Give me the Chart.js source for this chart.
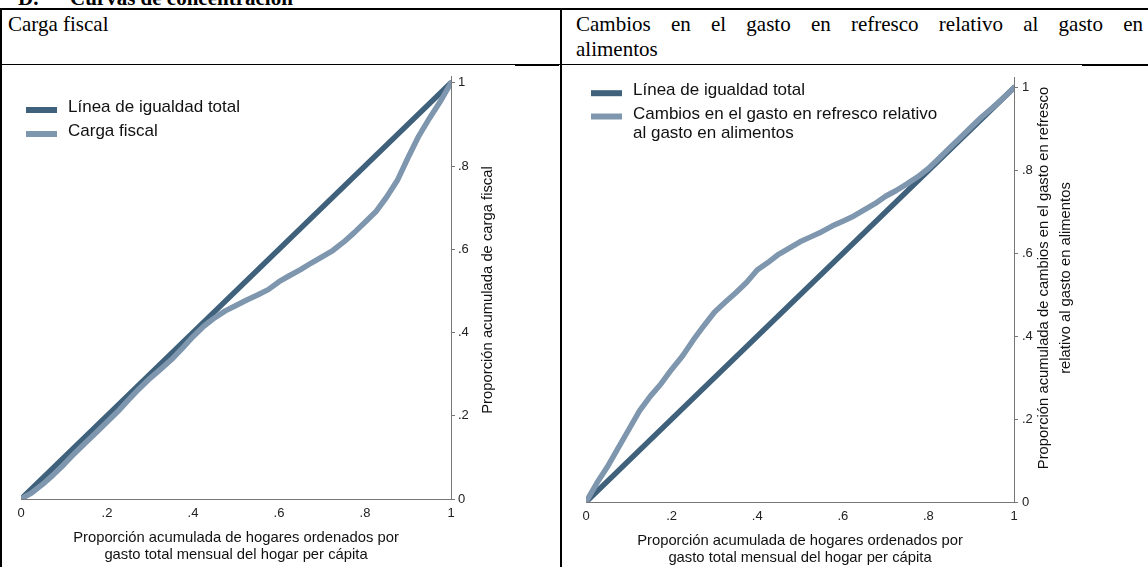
<!DOCTYPE html>
<html>
<head>
<meta charset="utf-8">
<script src="https://cdn.jsdelivr.net/npm/chart.js@4.4.1/dist/chart.umd.min.js"></script>
<style>
  body { margin: 0; background: #fff; width: 1148px; height: 567px; overflow: hidden; position: relative;
         font-family: "Liberation Serif", "Times New Roman", serif; color: #000; }
  .rule { position: absolute; background: #000; }
  .cell { position: absolute; font-size: 21px; line-height: 25px; white-space: nowrap; }
  .just { text-align: justify; text-align-last: justify; white-space: normal; }
  canvas { position: absolute; }
</style>
</head>
<body>
<div class="cell" style="left:18px; top:-14px; font-weight:bold;">D.<span style="position:absolute; left:52px;">Curvas&nbsp;de&nbsp;concentración</span></div>
<div class="rule" style="left:0; top:8px; width:1148px; height:2px;"></div>
<div class="rule" style="left:0; top:8px; width:2px; height:559px;"></div>
<div class="rule" style="left:560px; top:8px; width:2px; height:559px;"></div>
<div class="rule" style="left:0; top:64px; width:1148px; height:1px;"></div>
<div class="rule" style="left:515px; top:64px; width:44px; height:2px;"></div>
<div class="rule" style="left:1082px; top:64px; width:66px; height:2px;"></div>
<div class="cell" style="left:8px; top:12px;">Carga fiscal</div>
<div class="cell just" style="left:576px; top:12px; width:567px;">Cambios en el gasto en refresco relativo al gasto en</div>
<div class="cell" style="left:576px; top:37px;">alimentos</div>

<canvas id="chartCarga" width="560" height="501" style="left:0; top:66px;"></canvas>
<canvas id="chartRefresco" width="585" height="501" style="left:563px; top:66px;"></canvas>

<script>
// proporción acumulada de hogares (eje x)
const shareHogares = [0, 0.025, 0.05, 0.075, 0.1, 0.125, 0.15, 0.175, 0.2, 0.225, 0.25, 0.275, 0.3, 0.325, 0.35,
  0.375, 0.4, 0.425, 0.45, 0.475, 0.5, 0.525, 0.55, 0.575, 0.6, 0.625, 0.65, 0.675, 0.7, 0.725, 0.75, 0.775,
  0.8, 0.825, 0.85, 0.875, 0.9, 0.925, 0.95, 0.975, 1];

// curva de concentración: carga fiscal
const cargaFiscal = [0, 0.015, 0.035, 0.058, 0.083, 0.11, 0.135, 0.16, 0.185, 0.21, 0.238, 0.265, 0.29, 0.312,
  0.335, 0.362, 0.39, 0.415, 0.435, 0.452, 0.465, 0.478, 0.49, 0.503, 0.522, 0.537, 0.551, 0.567, 0.582, 0.597,
  0.617, 0.64, 0.665, 0.69, 0.725, 0.765, 0.82, 0.872, 0.915, 0.955, 1];

// curva de concentración: cambios en el gasto en refresco relativo al gasto en alimentos
const cambiosRefresco = [0, 0.045, 0.085, 0.13, 0.175, 0.22, 0.255, 0.285, 0.32, 0.352, 0.39, 0.425, 0.458, 0.482,
  0.505, 0.53, 0.56, 0.578, 0.598, 0.613, 0.628, 0.64, 0.652, 0.666, 0.678, 0.69, 0.705, 0.72, 0.738, 0.752,
  0.768, 0.785, 0.805, 0.83, 0.855, 0.88, 0.905, 0.93, 0.952, 0.975, 1];

// línea de igualdad total
const igualdadX = [0, 1];
const igualdadY = [0, 1];

const tickVals = [0, 0.2, 0.4, 0.6, 0.8, 1];
const tickText = ["0", ".2", ".4", ".6", ".8", "1"];

const labelIgualdad = "Línea de igualdad total";
const labelCarga = "Carga fiscal";
const labelCambios = "Cambios en el gasto en refresco relativo al gasto en alimentos";
const legendCarga = [["Línea de igualdad total"], ["Carga fiscal"]];
const legendCambios = [["Línea de igualdad total"], ["Cambios en el gasto en refresco relativo", "al gasto en alimentos"]];

const xTitle = ["Proporción acumulada de hogares ordenados por", "gasto total mensual del hogar per cápita"];
const yTitleCarga = ["Proporción acumulada de carga fiscal"];
const yTitleCambios = ["Proporción acumulada de cambios en el gasto en refresco", "relativo al gasto en alimentos"];

const darkBlue = "#3f617b";
const lightBlue = "#7e96ae";
const sans = '"Liberation Sans", Arial, sans-serif';

const pts = (xs, ys) => xs.map((x, i) => ({ x: x, y: ys[i] }));

// titles and legend, drawn Stata-style
const decor = {
  id: "decor",
  afterDraw(chart, args, o) {
    const ctx = chart.ctx;
    const a = chart.chartArea;
    ctx.save();
    ctx.textBaseline = "middle";

    // legend
    ctx.font = "17px " + sans;
    let y = o.legY;
    chart.data.datasets.forEach((ds, i) => {
      ctx.strokeStyle = ds.borderColor;
      ctx.lineWidth = 6;
      ctx.beginPath();
      ctx.moveTo(o.legX, y + 2.5);
      ctx.lineTo(o.legX + 31, y + 2.5);
      ctx.stroke();
      ctx.fillStyle = "#111";
      ctx.textAlign = "left";
      o.legend[i].forEach((t, j) => ctx.fillText(t, o.legX + 42, y + j * 19.3));
      y += o.legStep + (o.legend[i].length - 1) * 19.3;
    });

    // x title
    ctx.font = "14.8px " + sans;
    ctx.fillStyle = "#111";
    ctx.textAlign = "center";
    const cx = (a.left + a.right) / 2;
    xTitle.forEach((t, j) => ctx.fillText(t, cx, o.xTitleY + j * 17));

    // y title, reads bottom to top
    o.yTitle.forEach((t, j) => {
      ctx.save();
      ctx.translate(o.yTitleX + j * 22, o.yTitleMid);
      ctx.rotate(-Math.PI / 2);
      ctx.fillText(t, 0, 0);
      ctx.restore();
    });
    ctx.restore();
  }
};

function makeChart(id, curveLabel, curveVals, cfg) {
  const axisCommon = {
    type: "linear",
    min: 0,
    afterBuildTicks: (s) => { s.ticks = tickVals.map((v) => ({ value: v })); },
    border: { display: true, color: "#777", width: 1 },
  };
  return new Chart(document.getElementById(id), {
    type: "line",
    data: {
      datasets: [
        { label: labelIgualdad, data: pts(igualdadX, igualdadY), borderColor: darkBlue, order: 1 },
        { label: curveLabel, data: pts(shareHogares, curveVals), borderColor: lightBlue, order: 0 },
      ],
    },
    options: {
      responsive: false,
      animation: false,
      devicePixelRatio: 1,
      layout: { padding: { left: cfg.padLeft, top: cfg.padTop, right: 0, bottom: 0 } },
      elements: {
        point: { radius: 0 },
        line: { borderWidth: 5.5, tension: 0, borderJoinStyle: "round", borderCapStyle: "round", fill: false },
      },
      plugins: {
        legend: { display: false },
        tooltip: { enabled: false },
        decor: cfg.decor,
      },
      scales: {
        x: Object.assign({}, axisCommon, {
          max: 1,
          position: "bottom",
          afterFit: (s) => { s.height = cfg.xH; },
          grid: { drawOnChartArea: false, drawTicks: false },
          ticks: { callback: (v, i) => tickText[i], font: { size: 13, family: sans }, color: "#222",
                   padding: 7, maxRotation: 0, autoSkip: false },
        }),
        y: Object.assign({}, axisCommon, {
          max: cfg.yMax,
          position: "right",
          afterFit: (s) => { s.width = cfg.yW; },
          grid: { drawOnChartArea: false, drawTicks: true, tickLength: 4, color: "#777" },
          ticks: { callback: (v, i) => tickText[i], font: { size: 13, family: sans }, color: "#222",
                   padding: cfg.yPad, autoSkip: false },
        }),
      },
    },
    plugins: [decor],
  });
}

makeChart("chartCarga", labelCarga, cargaFiscal, {
  padLeft: 21, padTop: 9, xH: 68, yW: 109, yMax: 1.0144, yPad: 3,
  decor: { legX: 26, legY: 41.5, legStep: 24, legend: legendCarga,
           xTitleY: 472, yTitle: yTitleCarga, yTitleX: 488, yTitleMid: 224 },
});

makeChart("chartRefresco", labelCambios, cambiosRefresco, {
  padLeft: 23, padTop: 10, xH: 65, yW: 134, yMax: 1.024, yPad: 4,
  decor: { legX: 28, legY: 24.7, legStep: 23.3, legend: legendCambios,
           xTitleY: 475, yTitle: yTitleCambios, yTitleX: 481, yTitleMid: 212 },
});
</script>
</body>
</html>
